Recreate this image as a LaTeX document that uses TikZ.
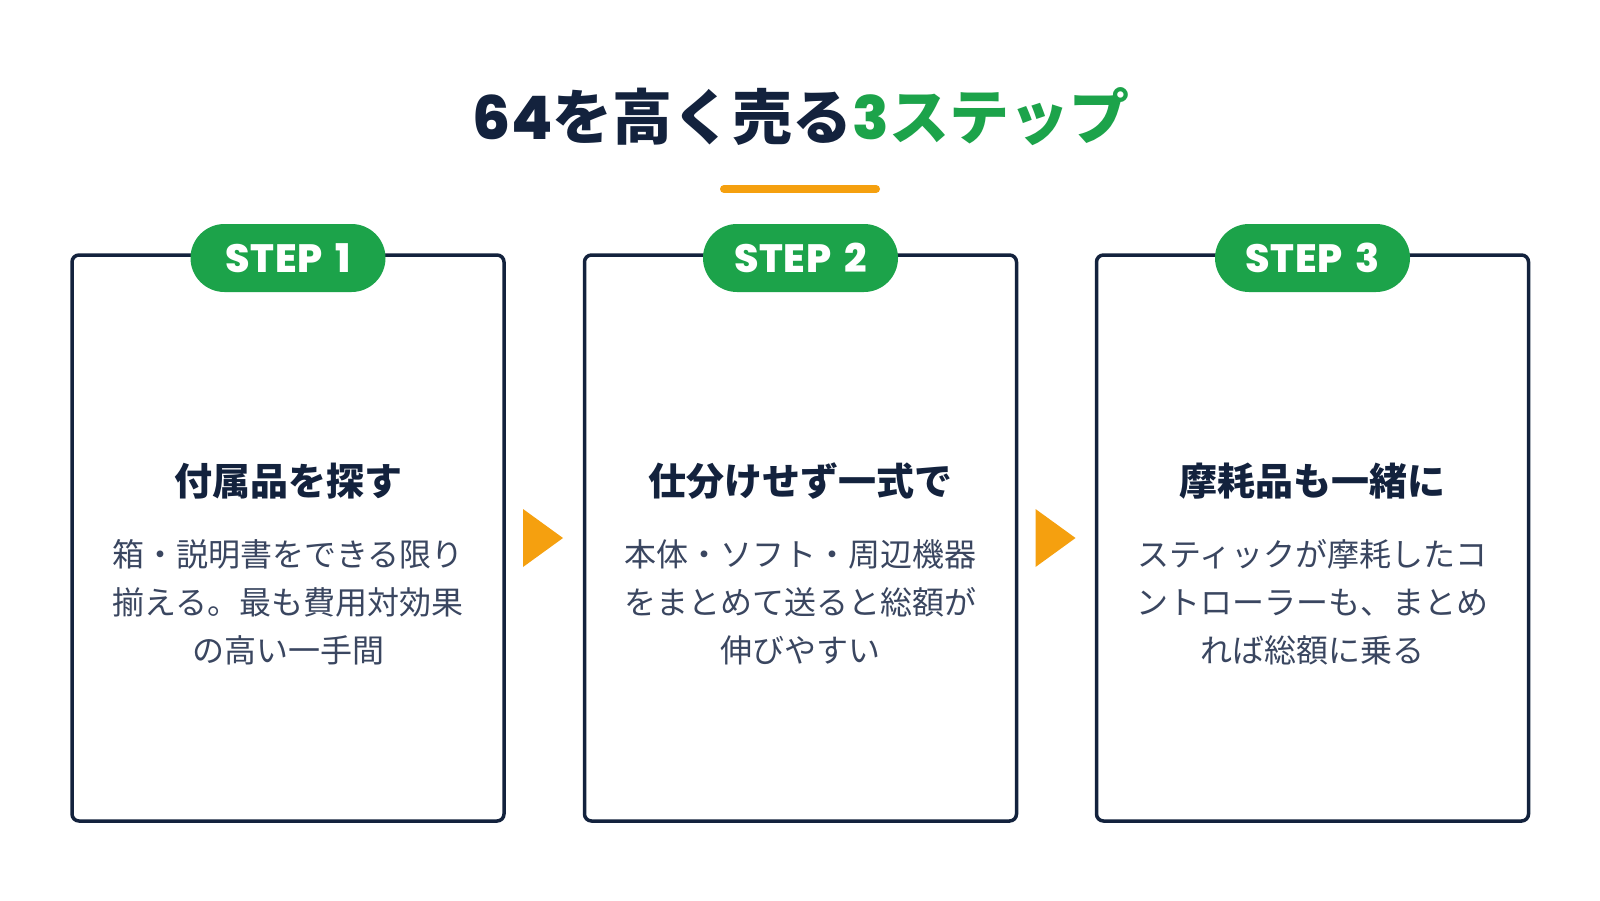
\documentclass[tikz,border=0pt]{standalone}
\usepackage{fontspec}
\setmainfont{Noto Sans CJK JP}
\newfontfamily\heavyfont{Noto Sans CJK JP Black}
\newfontfamily\popfont{Poppins ExtraBold}[LetterSpace=2]
\newfontfamily\digitfont{Poppins ExtraBold}
\usetikzlibrary{positioning}

\definecolor{navy}{HTML}{13223D}
\definecolor{stepgreen}{HTML}{1CA34A}
\definecolor{accent}{HTML}{F5A00F}
\definecolor{bodygray}{HTML}{3A4660}

\begin{document}
\begin{tikzpicture}[x=1pt, y=-1pt,
    card/.style={draw=navy, line width=3.5pt, rounded corners=7pt,
                 minimum width=432pt, minimum height=566pt, inner sep=0pt},
    pill/.style={fill=stepgreen, rounded corners=34pt, minimum width=195pt,
                 minimum height=68pt, inner sep=0pt, text=white,
                 font=\popfont\fontsize{39.5}{39.5}\selectfont},
    heading/.style={text=navy, font=\heavyfont\fontsize{38}{38}\selectfont},
    bodytxt/.style={text=bodygray, align=center,
                    font=\fontsize{32}{48}\selectfont}]
            \useasboundingbox (0,0) rectangle (1600,900);
            \fill[white] (0,0) rectangle (1600,900);

            % Titel
            \node[text=navy, font=\heavyfont\fontsize{60}{60}\selectfont] (title) at (801,117)
                {{\digitfont 64}を高く売る{\color{stepgreen}{\digitfont 3}ステップ}};
            \coordinate (barL) at (724,189);
            \coordinate (barR) at (876,189);
            \draw[accent, line width=8pt, line cap=round] (barL) -- (barR);

            % Karten
            \node[card] (card1) at (288,538) {};
            \node[card] (card2) at (800.5,538) {};
            \node[card] (card3) at (1312.5,538) {};

            \node[pill] (step1) at (288,258) {STEP\hspace{13pt}1};
            \node[pill] (step2) at (800.5,258) {STEP\hspace{13pt}2};
            \node[pill] (step3) at (1312.5,258) {STEP\hspace{13pt}3};

            % Inhalte
            \node[heading] (head1) at (288,481) {付属品を探す};
            \node[heading] (head2) at (800.5,481) {仕分けせず一式で};
            \node[heading] (head3) at (1312.5,481) {摩耗品も一緒に};

            \node[bodytxt] (text1) at (288,602) {箱・説明書をできる限り\\揃える。最も費用対効果\\の高い一手間};
            \node[bodytxt] (text2) at (800.5,602) {本体・ソフト・周辺機器\\をまとめて送ると総額が\\伸びやすい};
            \node[bodytxt] (text3) at (1312.5,602) {スティックが摩耗したコ\\ントローラーも、まとめ\\れば総額に乗る};

            % Pfeile
            \coordinate (tip1) at (563,538);
            \coordinate (tip2) at (1075.5,538);
            \fill[accent] (tip1) -- ++(-40,-29) -- ++(0,58) -- cycle;
            \fill[accent] (tip2) -- ++(-40,-29) -- ++(0,58) -- cycle;
        \end{tikzpicture}
\end{document}
